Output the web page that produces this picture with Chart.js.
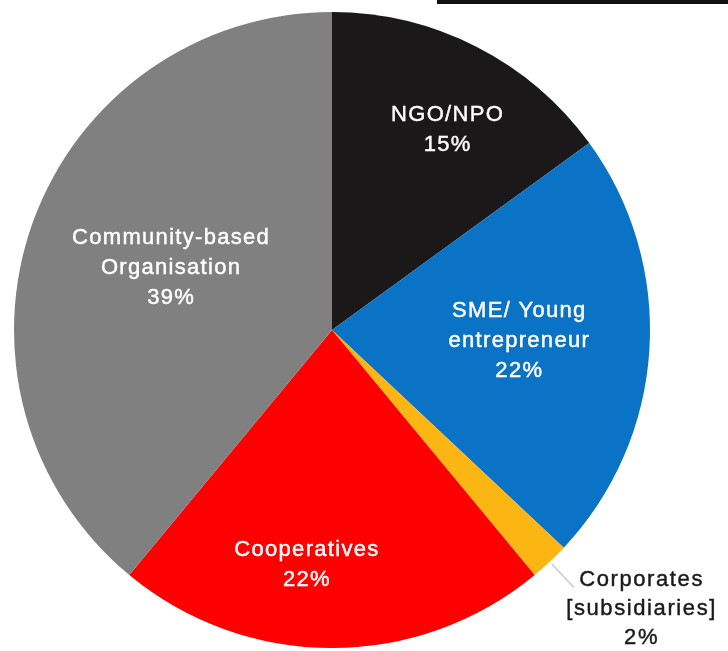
<!DOCTYPE html>
<html>
<head>
<meta charset="utf-8">
<script src="https://cdn.jsdelivr.net/npm/chart.js@4"></script>
<style>
  html, body { margin: 0; padding: 0; background: #ffffff; }
  #wrap { position: relative; width: 728px; height: 651px; overflow: hidden; }
  #bar { position: absolute; left: 437px; top: 0; width: 291px; height: 4px; background: #111; }
</style>
</head>
<body>
<div id="wrap">
  <canvas id="c" width="728" height="651"></canvas>
  <div id="bar"></div>
</div>
<script>
const categories = ["NGO/NPO", "SME/ Young entrepreneur", "Corporates [subsidiaries]", "Cooperatives", "Community-based Organisation"];
const labelLines = [["NGO/NPO"], ["SME/ Young", "entrepreneur"], ["Corporates", "[subsidiaries]"], ["Cooperatives"], ["Community-based", "Organisation"]];
const shares = [15, 22, 2, 22, 39];
const sliceColors = ["#1b1819", "#0b73c6", "#fbb614", "#fe0000", "#808080"];

// label placement relative to each slice: [angle offset (deg), radius fraction, text colour, outside?]
const labelPlace = [
  [3.0, 0.727, "#ffffff", false],
  [-0.3, 0.59, "#ffffff", false],
  [-4.8, 1.31, "#1a1a1a", true],
  [6.1, 0.742, "#ffffff", false],
  [1.2, 0.542, "#ffffff", false]
];

const labelPlugin = {
  id: 'sliceLabels',
  afterDatasetsDraw(chart) {
    const ctx = chart.ctx;
    const meta = chart.getDatasetMeta(0);
    meta.data.forEach((arc, i) => {
      const p = arc.getProps(['x', 'y', 'startAngle', 'endAngle', 'outerRadius'], true);
      const mid = (p.startAngle + p.endAngle) / 2 + labelPlace[i][0] * Math.PI / 180;
      const r = p.outerRadius * labelPlace[i][1];
      const cx = p.x + Math.cos(mid) * r;
      const cy = p.y + Math.sin(mid) * r;
      const lines = labelLines[i].concat([shares[i] + "%"]);
      const outside = labelPlace[i][3];
      const lh = outside ? 29 : 30;
      ctx.save();
      if (outside) {
        const a = (p.startAngle + p.endAngle) / 2;
        ctx.strokeStyle = '#c8ccd0';
        ctx.lineWidth = 1.5;
        ctx.beginPath();
        ctx.moveTo(p.x + Math.cos(a) * (p.outerRadius + 3), p.y + Math.sin(a) * (p.outerRadius + 3));
        ctx.lineTo(p.x + Math.cos(a) * (p.outerRadius + 35), p.y + Math.sin(a) * (p.outerRadius + 35));
        ctx.stroke();
      }
      ctx.fillStyle = labelPlace[i][2];
      ctx.strokeStyle = labelPlace[i][2];
      ctx.lineWidth = 0.45;
      ctx.font = '22px "Liberation Sans", Arial, sans-serif';
      try { ctx.letterSpacing = outside ? '1.6px' : '1.3px'; } catch (e) {}
      ctx.textAlign = 'center';
      ctx.textBaseline = 'middle';
      const top = cy - (lines.length - 1) * lh / 2;
      lines.forEach((t, k) => {
        ctx.fillText(t, cx, top + k * lh);
        ctx.strokeText(t, cx, top + k * lh);
      });
      ctx.restore();
    });
  }
};

new Chart(document.getElementById('c'), {
  type: 'pie',
  data: {
    labels: categories,
    datasets: [{
      data: shares,
      backgroundColor: sliceColors,
      borderWidth: 0
    }]
  },
  options: {
    responsive: false,
    animation: false,
    layout: { padding: { left: 14, right: 78, top: 12, bottom: 3 } },
    plugins: {
      legend: { display: false },
      tooltip: { enabled: false }
    }
  },
  plugins: [labelPlugin]
});
</script>
</body>
</html>
